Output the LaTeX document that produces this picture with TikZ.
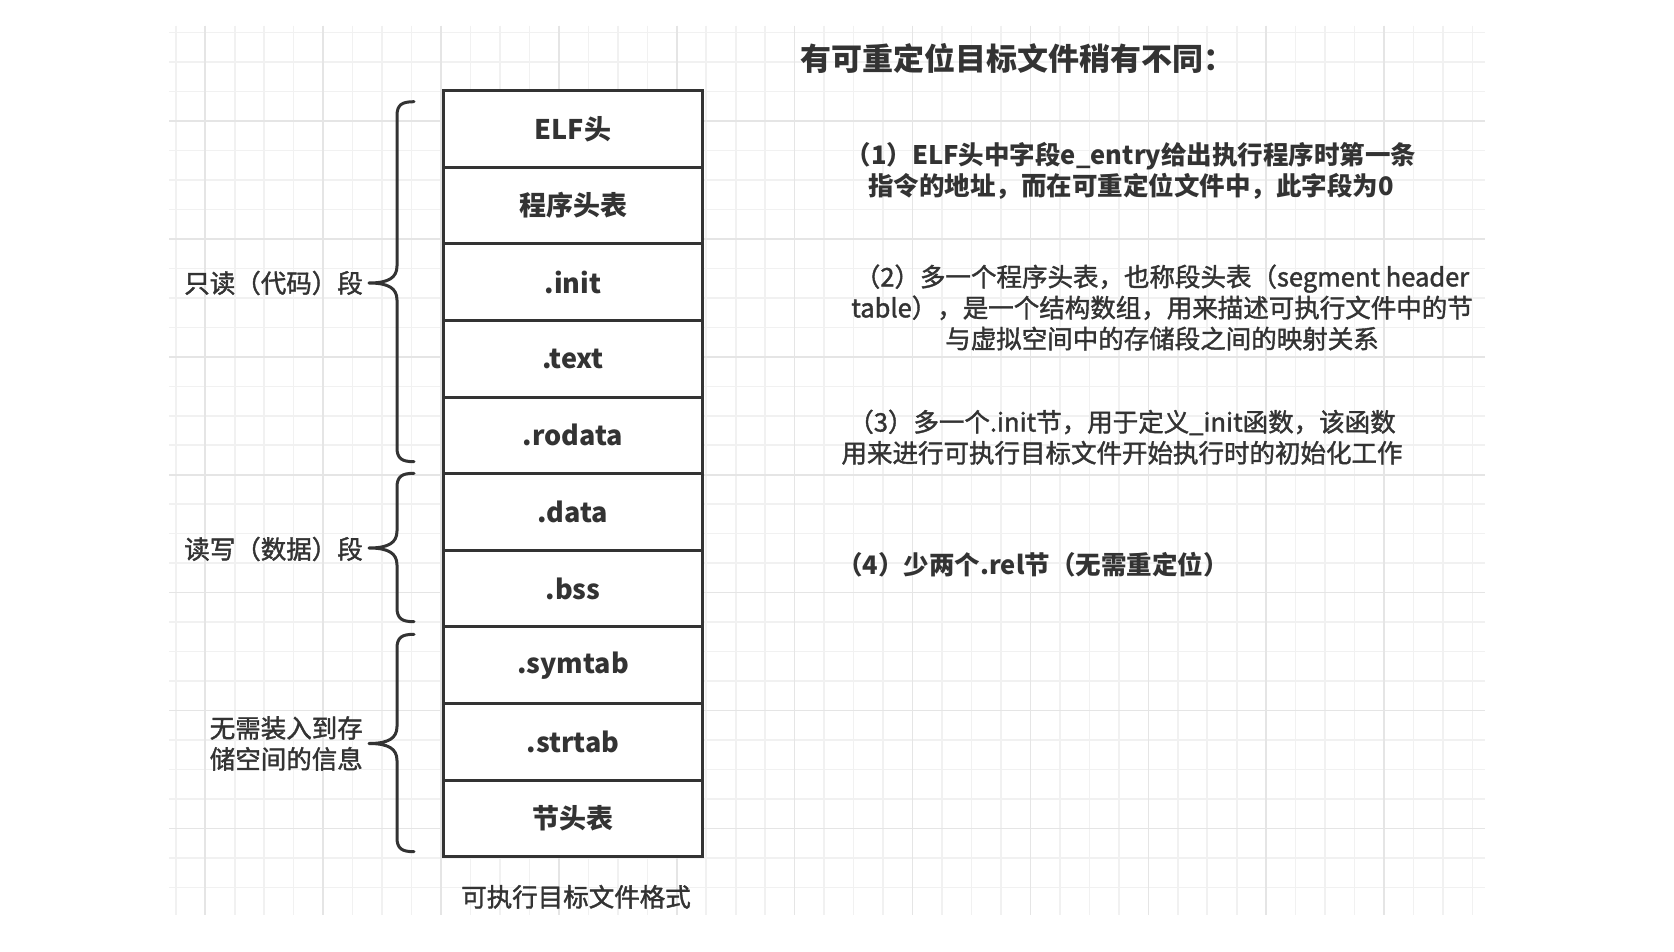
\documentclass[tikz,border=0pt]{standalone}
\usepackage{fontspec}
\setmainfont{Noto Sans CJK SC}
\newfontfamily\medfont{Noto Sans CJK SC}[FakeBold=1.5]
\definecolor{ink}{HTML}{333333}
\definecolor{gminor}{HTML}{F1F1F1}
\definecolor{gmajor}{HTML}{E5E5E5}
\newcommand\curlyb[3]{% top, bottom, middle
  \draw[brace] (414,#1) .. controls (402,#1) and (397,#1+3) .. (397,#1+14)
    -- (397,#3-17) .. controls (397,#3-5) and (388,#3) .. (369,#3)
    .. controls (388,#3) and (397,#3+5) .. (397,#3+17)
    -- (397,#2-14) .. controls (397,#2-3) and (402,#2) .. (414,#2);}
\begin{document}
\begin{tikzpicture}[x=1pt,y=-1pt,
  cell/.style={draw=ink, line width=3pt, fill=white, minimum width=259.4pt,
    minimum height=76.6pt, inner sep=0pt, text=ink,
    font=\fontsize{27}{32}\selectfont\bfseries},
  lbl/.style={inner sep=0pt, text=ink, align=center,
    font=\fontsize{25.5}{31}\medfont},
  blbl/.style={lbl, font=\fontsize{25.5}{31}\selectfont\bfseries},
  brace/.style={draw=ink, line width=3pt, line cap=round, line join=round},
  gline/.style={line width=1.6pt}]
\fill[white] (0,0) rectangle (1674,952);
\useasboundingbox (0,0) rectangle (1674,952);
% grid
\foreach \k in {0,...,44} \draw[gline, gminor] (175.8+29.47*\k,26) -- (175.8+29.47*\k,915);
\foreach \k in {0,...,29} \draw[gline, gminor] (169,32.7+29.47*\k) -- (1485,32.7+29.47*\k);
\foreach \k in {1,5,...,41} \draw[gline, gmajor] (175.8+29.47*\k,26) -- (175.8+29.47*\k,915);
\foreach \k in {3,7,...,27} \draw[gline, gmajor] (169,32.7+29.47*\k) -- (1485,32.7+29.47*\k);
% file layout
\node[cell] (elf)    at (573,129.0) {ELF头};
\node[cell] (phdr)   at (573,205.6) {程序头表};
\node[cell] (init)   at (573,282.2) {.init};
\node[cell] (text)   at (573,358.8) {.text};
\node[cell] (rodata) at (573,435.4) {.rodata};
\node[cell] (data)   at (573,512.0) {.data};
\node[cell] (bss)    at (573,588.6) {.bss};
\node[cell] (symtab) at (573,665.2) {.symtab};
\node[cell] (strtab) at (573,741.8) {.strtab};
\node[cell] (shdr)   at (573,818.4) {节头表};
\node[lbl] (cap) at (576,896.8) {可执行目标文件格式};
% braces
\curlyb{101.7}{461.7}{283}
\curlyb{473.3}{621.7}{548}
\curlyb{634.3}{851.7}{743.5}
\node[lbl, anchor=east] (ro) at (363,283) {只读（代码）段};
\node[lbl, anchor=east] (rw) at (363,549) {读写（数据）段};
\node[lbl, anchor=east, align=right] (ns) at (363,743.5) {无需装入到存\\储空间的信息};
% notes
\node[lbl, anchor=west, font=\fontsize{31}{37}\selectfont\bfseries] (title) at (800,58.7) {有可重定位目标文件稍有不同：};
\node[blbl] (n1) at (1131,170.5) {（1）ELF头中字段e\_entry给出执行程序时第一条\\指令的地址，而在可重定位文件中，此字段为0};
\node[lbl] (n2) at (1162,307.5) {（2）多一个程序头表，也称段头表（segment header\\table），是一个结构数组，用来描述可执行文件中的节\\与虚拟空间中的存储段之间的映射关系};
\node[lbl] (n3) at (1122,437.2) {（3）多一个.init节，用于定义\_init函数，该函数\\用来进行可执行目标文件开始执行时的初始化工作};
\node[blbl] (n4) at (1033,564.8) {（4）少两个.rel节（无需重定位）};
\end{tikzpicture}
\end{document}
